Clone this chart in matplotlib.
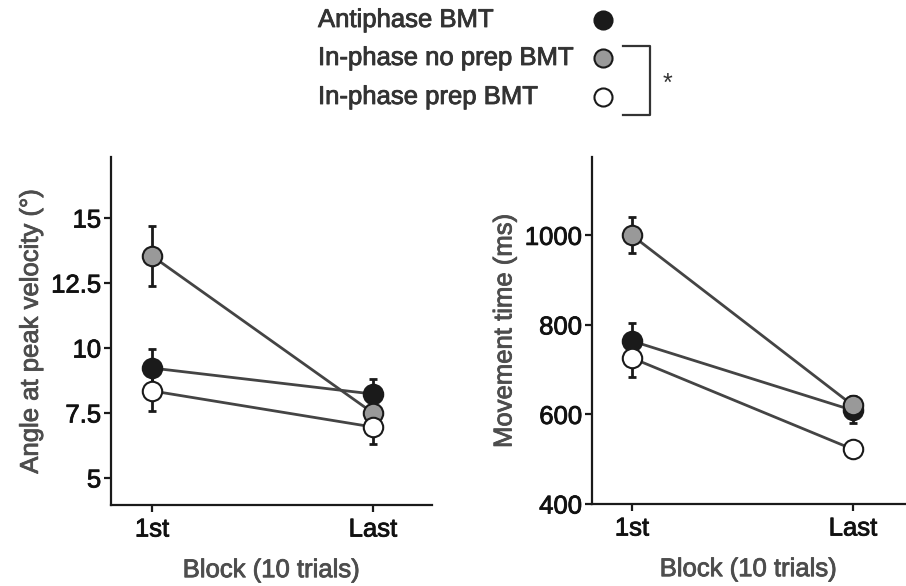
import numpy as np
import matplotlib
matplotlib.use('Agg')
import matplotlib.pyplot as plt
import matplotlib.patheffects as pe

plt.rcParams['font.family'] = ['Liberation Sans', 'DejaVu Sans']

# data
blocks = ['1st', 'Last']
groups = ['Antiphase BMT', 'In-phase no prep BMT', 'In-phase prep BMT']
fills = ['#1a1a1a', '#999999', '#ffffff']

angle_mean = {'Antiphase BMT': [9.23, 8.23],
              'In-phase no prep BMT': [13.54, 7.5],
              'In-phase prep BMT': [8.35, 6.96]}
angle_err = {'Antiphase BMT': [0.73, 0.57],
             'In-phase no prep BMT': [1.17, 0.3],
             'In-phase prep BMT': [0.77, 0.65]}

mt_mean = {'Antiphase BMT': [764, 609],
           'In-phase no prep BMT': [1000, 620],
           'In-phase prep BMT': [726, 522]}
mt_err = {'Antiphase BMT': [40, 27],
          'In-phase no prep BMT': [40, 22],
          'In-phase prep BMT': [42, 10]}

W, H = 906, 586
FS = 18.5


def bold(c):
    return [pe.withStroke(linewidth=0.6, foreground=c)]


fig = plt.figure(figsize=(W / 100, H / 100), dpi=100)

ax1 = fig.add_axes([111 / W, 1 - 505 / H, 321 / W, 348 / H])
ax2 = fig.add_axes([592 / W, 1 - 504 / H, 313 / W, 347 / H])

x = np.arange(len(blocks))


def panel(ax, means, errs, ylabel, yticks, yticklabels, ylim, xlim):
    for g, fc in zip(groups, fills):
        ax.errorbar(x, means[g], yerr=errs[g], fmt='none', ecolor='#1a1a1a',
                    elinewidth=2, capsize=3, capthick=2, zorder=2)
    for g, fc in zip(groups, fills):
        ax.plot(x, means[g], '-', color='#444444', lw=2, zorder=3)
    for g, fc in zip(groups, fills):
        ax.plot(x, means[g], 'o', ms=14, mfc=fc, mec='#1a1a1a', mew=1.5,
                zorder=4, clip_on=False)
    ax.set_xlim(*xlim)
    ax.set_ylim(*ylim)
    ax.set_xticks(x)
    ax.set_xticklabels(blocks)
    ax.set_yticks(yticks)
    ax.set_yticklabels(yticklabels)
    for s in ['top', 'right']:
        ax.spines[s].set_visible(False)
    for s in ['left', 'bottom']:
        ax.spines[s].set_linewidth(1.6)
        ax.spines[s].set_color('#1a1a1a')
    ax.tick_params(axis='both', length=5, width=1.6, color='#1a1a1a',
                   labelsize=FS, labelcolor='#111111')
    ax.tick_params(axis='y', pad=2)
    ax.tick_params(axis='x', pad=4)
    for t in ax.get_xticklabels() + ax.get_yticklabels():
        t.set_path_effects(bold('#111111'))
    xl = ax.set_xlabel('Block (10 trials)', fontsize=FS, color='#4d4d4d', labelpad=12)
    yl = ax.set_ylabel(ylabel, fontsize=FS, color='#4d4d4d', labelpad=6)
    xl.set_path_effects(bold('#4d4d4d'))
    yl.set_path_effects(bold('#4d4d4d'))


panel(ax1, angle_mean, angle_err, 'Angle at peak velocity (°)',
      [5, 7.5, 10, 12.5, 15], ['5', '7.5', '10', '12.5', '15'],
      (3.96, 17.35), (-0.186, 1.267))
panel(ax2, mt_mean, mt_err, 'Movement time (ms)',
      [400, 600, 800, 1000], ['400', '600', '800', '1000'],
      (400, 1175), (-0.181, 1.235))

# legend drawn in pixel coordinates
lg = fig.add_axes([0, 0, 1, 1])
lg.set_xlim(0, W)
lg.set_ylim(H, 0)
lg.axis('off')
leg_y = [20, 58, 97]
for g, fc, yy in zip(groups, fills, leg_y):
    lg.text(318, yy, g, fontsize=FS, color='#333333', va='center', ha='left',
            path_effects=bold('#333333'))
    lg.plot([603], [yy], 'o', ms=13, mfc=fc, mec='#1a1a1a', mew=1.5)
lg.plot([623, 650, 650, 623], [46, 46, 115, 115], color='#333333', lw=1.6)
lg.text(667, 84, '*', fontsize=18, color='#333333', ha='center', va='center')

fig.savefig('out.png', dpi=100)
